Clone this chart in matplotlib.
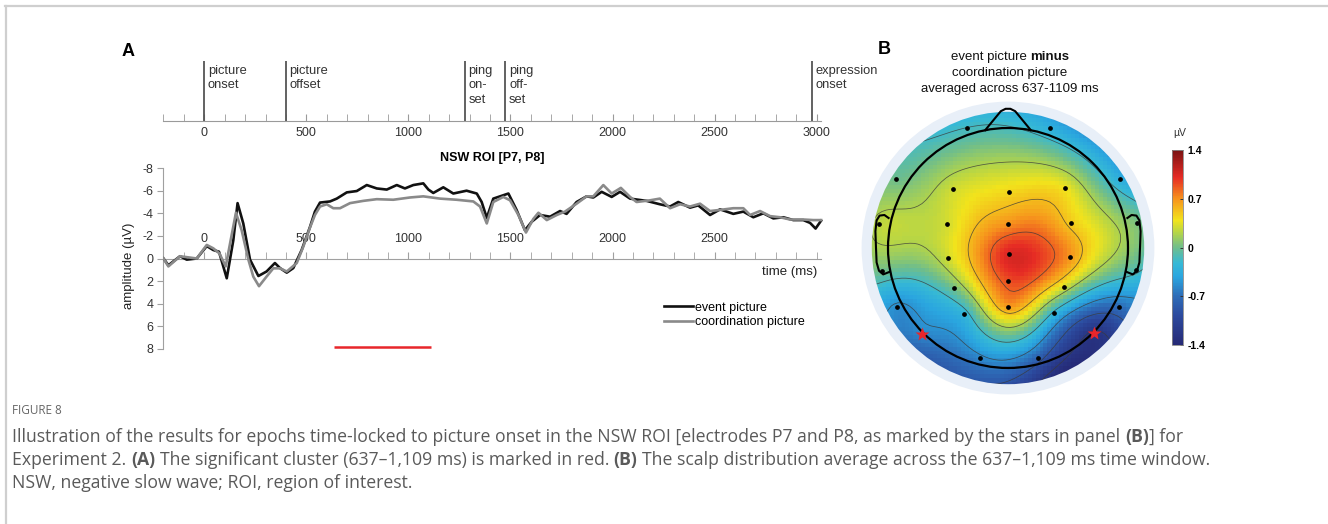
import numpy as np
import matplotlib
matplotlib.use('Agg')
import matplotlib.pyplot as plt
from matplotlib.colors import LinearSegmentedColormap, Normalize
from matplotlib.patches import Circle
from matplotlib.lines import Line2D
from matplotlib.cm import ScalarMappable

plt.rcParams['font.family'] = ['Liberation Sans', 'DejaVu Sans']
plt.rcParams['axes.unicode_minus'] = False

# ---- panel A data (ms, uV) ----
event_t = [-200, -176, -119, -86, -37, 12, 44, 72, 110, 142, 163, 191, 224, 265, 305, 346, 371, 404, 436, 477,
           518, 542, 567, 616, 649, 698, 747, 796, 845, 894, 943, 983, 1024, 1073, 1098, 1122, 1171, 1220, 1285, 1335,
           1359, 1384, 1416, 1449, 1490, 1530, 1571, 1604, 1645, 1694, 1743, 1775, 1824, 1873, 1906, 1947, 1996, 2037,
           2086, 2126, 2167, 2232, 2282, 2322, 2380, 2420, 2478, 2527, 2592, 2641, 2690, 2739, 2788, 2837, 2886, 2935,
           2968, 2995, 3022]
event_v = [0, 0.6, -0.2, 0.1, 0, -1.1, -0.75, -0.6, 1.75, -1.6, -4.9, -3.1, 0.1, 1.55, 1.15, 0.4, 0.85, 1.25, 0.85, -0.75,
           -2.8, -4.15, -4.95, -5.05, -5.3, -5.85, -5.97, -6.5, -6.2, -6.1, -6.5, -6.2, -6.5, -6.65, -6.1, -5.8, -6.3, -5.75, -6.0, -5.75,
           -5.0, -3.6, -5.3, -5.5, -5.75, -4.3, -2.5, -3.25, -3.85, -3.7, -4.2, -3.95, -5.0, -5.5, -5.4, -5.9, -5.45, -5.9,
           -5.3, -5.2, -5.1, -4.8, -4.6, -5.0, -4.5, -4.7, -3.85, -4.35, -3.95, -4.15, -3.65, -4.0, -3.55, -3.65, -3.4, -3.4,
           -3.15, -2.65, -3.35]

coord_t = [-200, -176, -119, -37, 12, 44, 74, 105, 129, 155, 183, 216, 240, 268, 305, 338, 371, 404, 453, 485,
           518, 542, 567, 600, 632, 665, 714, 779, 845, 926, 1008, 1073, 1155, 1236, 1318, 1351, 1384, 1416, 1465, 1498,
           1539, 1576, 1612, 1637, 1678, 1727, 1767, 1824, 1873, 1906, 1955, 1996, 2041, 2086, 2118, 2184, 2232, 2282,
           2331, 2380, 2429, 2478, 2527, 2592, 2641, 2674, 2723, 2772, 2821, 2870, 2935, 2984, 3022]
coord_v = [0, 0.7, -0.2, 0, -1.2, -0.9, -0.45, 0.7, -1.6, -4.05, -2.5, 0.1, 1.6, 2.45, 1.6, 0.87, 0.87, 1.15, 0.4, -1.05,
           -2.75, -3.85, -4.6, -4.8, -4.45, -4.45, -4.9, -5.1, -5.25, -5.2, -5.4, -5.5, -5.3, -5.2, -5.05, -4.6, -3.1, -5.0, -5.45, -5.15,
           -3.85, -2.3, -3.5, -4.05, -3.4, -3.85, -4.15, -4.85, -5.5, -5.5, -6.5, -5.75, -6.25, -5.45, -5.0, -5.15, -5.3, -4.45,
           -4.8, -4.6, -4.85, -4.2, -4.3, -4.45, -4.45, -3.85, -4.2, -3.75, -3.65, -3.45, -3.45, -3.4, -3.4]

events = [0, 400, 1275, 1475, 2978]
event_names = ['picture\nonset', 'picture\noffset', 'ping\non-\nset', 'ping\noff-\nset', 'expression\nonset']
cluster = [637, 1109]
cluster_y = 7.8

# ---- panel B data (head radius = 1) ----
elec_x = [-0.344, 0.350, -0.933, 0.933, -0.456, 0.008, 0.475, -1.075, -0.511, 0.003, 0.523, 1.073, -0.503, 0.006, 0.519,
          -1.050, 1.067, -0.448, 0.0, 0.467, -0.923, 0.928, -0.367, 0.003, 0.386, -0.719, 0.719, -0.233, 0.248]
elec_y = [1.003, 1.003, 0.573, 0.573, 0.492, 0.464, 0.503, 0.196, 0.200, 0.200, 0.206, 0.211, -0.086, -0.050, -0.078,
          -0.189, -0.183, -0.331, -0.275, -0.323, -0.494, -0.489, -0.550, -0.489, -0.539, -0.717, -0.711, -0.919, -0.919]
elec_v = [-0.15, -0.3, 0.0, -0.3, 0.3, 0.45, 0.4, 0.25, 0.3, 0.7, 0.5, 0.05, 0.3, 1.05, 0.7,
          0.0, -0.1, 0.05, 0.9, 0.35, -0.55, -0.7, -0.25, 0.7, -0.2, -0.55, -1.25, -0.55, -0.75]
star_idx = [25, 26]
edge_deg = [90, 60, 30, 10, -10, -30, -50, -70, -90, -110, -130, -150, -170, 170, 150, 120]
edge_v = [-0.35, -0.55, -0.45, -0.05, -0.25, -0.75, -1.3, -1.45, -1.0, -0.9, -0.85, -0.5, 0.0, 0.15, 0.0, -0.25]
cbar_ticks = [-1.4, -0.7, 0, 0.7, 1.4]

W, H = 1328, 524
fig = plt.figure(figsize=(W / 100, H / 100), dpi=100)


def px_axes(x0, y0, x1, y1):
    return fig.add_axes([x0 / W, 1 - y1 / H, (x1 - x0) / W, (y1 - y0) / H])


def text_width(s, size, family, weight):
    if not s:
        return 0
    r = fig.canvas.get_renderer()
    t = fig.text(0, 0, s, fontsize=size, family=family, fontweight=weight)
    w = t.get_window_extent(r).width
    t.remove()
    return w


def layout_runs(parts, size, family):
    sp = text_width('a a', size, family, 'normal') - text_width('aa', size, family, 'normal')
    out = []
    for s, wt in parts:
        lead = len(s) - len(s.lstrip())
        trail = len(s) - len(s.rstrip())
        out.append((lead * sp, text_width(s.strip(), size, family, wt), trail * sp))
    return out


def draw_runs(x, y, parts, size, family, color, ha='left'):
    widths = layout_runs(parts, size, family)
    if ha == 'center':
        x -= sum(sum(w) for w in widths) / 2
    for (s, wt), (l, c, tr) in zip(parts, widths):
        x += l
        fig.text(x / W, 1 - y / H, s.strip(), fontsize=size, family=family, fontweight=wt,
                 color=color, va='center', ha='left')
        x += c + tr


# frame
fig.add_artist(Line2D([5 / W, 1], [1 - 6 / H, 1 - 6 / H], transform=fig.transFigure, color='#cfcfcf', lw=1.6))
fig.add_artist(Line2D([6 / W, 6 / W], [0, 1 - 6 / H], transform=fig.transFigure, color='#cfcfcf', lw=1.6))

X0 = 204.3 - 0.2041 * 200
X1 = 204.3 + 0.2041 * 3030

# ---- timeline ----
ax_t = px_axes(X0, 61, X1, 121)
ax_t.set_xlim(-200, 3030)
ax_t.set_ylim(0, 1)
for s in ['top', 'left', 'right']:
    ax_t.spines[s].set_visible(False)
ax_t.spines['bottom'].set_color('#9a9a9a')
ax_t.spines['bottom'].set_bounds(-200, 3020)
ax_t.set_yticks([])
ax_t.set_xticks(range(0, 3001, 500))
ax_t.set_xticks(range(-200, 3001, 100), minor=True)
ax_t.tick_params(axis='x', which='both', direction='in', length=5, color='#9a9a9a',
                 labelsize=9, pad=4, labelcolor='#333333')
ax_t.patch.set_visible(False)
for t, lab in zip(events, event_names):
    ax_t.axvline(t, color='#555555', lw=1.3)
    ax_t.text(t + 18, 0.94, lab, va='top', ha='left', fontsize=9.3, color='#333333', linespacing=1.3)

# ---- ERP plot ----
ax = px_axes(X0, 160, X1, 352)
ax.set_xlim(-200, 3030)
ax.set_ylim(8.274, -8.717)
ax.patch.set_visible(False)
ax.spines['right'].set_visible(False)
ax.spines['bottom'].set_visible(False)
ax.spines['top'].set_position(('data', 0))
ax.spines['top'].set_bounds(-200, 3020)
ax.spines['left'].set_bounds(-8, 8)
for s in ['top', 'left']:
    ax.spines[s].set_color('#a0a0a0')
ax.xaxis.set_ticks_position('top')
ax.set_xticks(range(0, 2501, 500))
ax.set_xticks(range(-200, 3001, 100), minor=True)
ax.tick_params(axis='x', which='both', direction='out', length=5, color='#a0a0a0',
               labelsize=9, pad=5, labelcolor='#333333')
ax.set_yticks(range(-8, 9, 2))
ax.tick_params(axis='y', direction='out', length=4, color='#a0a0a0', labelsize=9, labelcolor='#333333', pad=3)

l1, = ax.plot(event_t, event_v, color='#111111', lw=1.9, label='event picture', zorder=3)
l2, = ax.plot(coord_t, coord_v, color='#8a8a8a', lw=1.9, label='coordination picture', zorder=4)
ax.plot(cluster, [cluster_y, cluster_y], color='#e8262b', lw=1.8, solid_capstyle='butt')
ax.text(3005, 1.2, 'time (ms)', ha='right', va='center', fontsize=9.5, color='#222222')
ax.legend(handles=[l1, l2], loc='center left', bbox_to_anchor=(664 / W, 1 - 315 / H),
          bbox_transform=fig.transFigure, frameon=False, fontsize=9, handlelength=2.3,
          handletextpad=0.2, labelspacing=0.2, borderpad=0, borderaxespad=0)

fig.text(492 / W, 1 - 158 / H, 'NSW ROI [P7, P8]', ha='center', va='center', fontweight='bold', fontsize=9)
fig.text(129 / W, 1 - 266 / H, 'amplitude (\u00b5V)', rotation=90, ha='center', va='center', fontsize=9.5,
         color='#222222')
fig.text(122 / W, 1 - 52 / H, 'A', ha='left', va='center', fontweight='bold', fontsize=13)
fig.text(878 / W, 1 - 50 / H, 'B', ha='left', va='center', fontweight='bold', fontsize=13)

# ---- topomap ----
cmap = LinearSegmentedColormap.from_list('topo', [
    (0.0, '#262a76'), (0.15, '#2c4a9e'), (0.25, '#2e6db8'), (0.35, '#2aa6e0'), (0.42, '#36b9d6'),
    (0.5, '#6fbe8c'), (0.58, '#b8d645'), (0.64, '#f2e41c'), (0.75, '#f7941d'), (0.86, '#e62b25'),
    (1.0, '#7a1212')])
norm = Normalize(-1.4, 1.4)

axm = px_axes(858, 98, 1158, 398)
axm.set_xlim(-1.25, 1.25)
axm.set_ylim(-1.25, 1.25)
axm.set_aspect('equal')
axm.axis('off')

ex = np.array(elec_x)
ey = np.array(elec_y)
ang = np.radians(edge_deg)
px_ = np.r_[ex, 1.2 * np.cos(ang)]
py_ = np.r_[ey, 1.2 * np.sin(ang)]
pv_ = np.r_[elec_v, edge_v]


def tps_kernel(d):
    with np.errstate(divide='ignore', invalid='ignore'):
        k = d ** 2 * np.log(d)
    return np.nan_to_num(k)


n = len(px_)
D = np.hypot(px_[:, None] - px_[None, :], py_[:, None] - py_[None, :])
A = np.zeros((n + 3, n + 3))
A[:n, :n] = tps_kernel(D) + 0.002 * np.eye(n)
A[:n, n] = 1
A[:n, n + 1] = px_
A[:n, n + 2] = py_
A[n, :n] = 1
A[n + 1, :n] = px_
A[n + 2, :n] = py_
wts = np.linalg.solve(A, np.r_[pv_, 0, 0, 0])

N = 70
g = np.linspace(-1.15, 1.15, N)
gx, gy = np.meshgrid(g, g)
Dg = np.hypot(gx[..., None] - px_, gy[..., None] - py_)
Z = tps_kernel(Dg) @ wts[:n] + wts[n] + wts[n + 1] * gx + wts[n + 2] * gy
Z = np.clip(Z, -1.4, 1.4)

halo = Circle((0, 0), 1.22, fc='#e8eff8', ec='none', zorder=0)
axm.add_patch(halo)
clip = Circle((0, 0), 1.135, transform=axm.transData)
im = axm.imshow(Z, extent=(-1.15, 1.15, -1.15, 1.15), origin='lower', cmap=cmap, norm=norm,
                interpolation='nearest', zorder=1)
im.set_clip_path(clip)
cs = axm.contour(gx, gy, Z, levels=[-1.2, -0.85, -0.5, -0.15, 0.2, 0.55, 0.85], colors='#3a3a3a',
                 linewidths=0.55, linestyles='solid', alpha=0.8, zorder=2)
cs.set_clip_path(clip)

axm.add_patch(Circle((0, 0), 1.0, fill=False, ec='black', lw=1.6, zorder=3))
nose_x = [-0.19, -0.06, -0.02, 0.02, 0.06, 0.19]
nose_y = [0.982, 1.14, 1.16, 1.16, 1.14, 0.982]
axm.plot(nose_x, nose_y, color='black', lw=1.5, zorder=3)
ear_x = [0.995, 1.03, 1.07, 1.095, 1.105, 1.10, 1.095, 1.075, 1.04, 0.99]
ear_y = [0.25, 0.275, 0.27, 0.23, 0.14, 0.0, -0.12, -0.19, -0.22, -0.20]
axm.plot(ear_x, ear_y, color='black', lw=1.5, zorder=3)
axm.plot([-v for v in ear_x], ear_y, color='black', lw=1.5, zorder=3)

dot_idx = [i for i in range(len(elec_x)) if i not in star_idx]
axm.plot(ex[dot_idx], ey[dot_idx], 'o', color='black', ms=2.4, zorder=4)
axm.plot(ex[star_idx], ey[star_idx], '*', color='#e8262b', ms=10, mec='none', zorder=4)

# colorbar
cax = px_axes(1172, 150, 1183, 345)
cb = fig.colorbar(ScalarMappable(norm=norm, cmap=cmap), cax=cax)
cb.set_ticks(cbar_ticks)
cb.set_ticklabels(['-1.4', '-0.7', '0', '0.7', '1.4'])
cb.outline.set_edgecolor('#888888')
cb.outline.set_linewidth(0.6)
cax.tick_params(direction='in', length=2, width=0.7, color='#333333', labelsize=7.5, pad=3)
for lab in cax.get_yticklabels():
    lab.set_fontweight('bold')
fig.text(1180 / W, 1 - 133 / H, '\u00b5V', ha='center', va='center', fontsize=7.5, color='#333333')

# topomap title
draw_runs(1010, 57, [('event picture ', 'normal'), ('minus', 'bold')], 9.5, 'Liberation Sans', '#111111', ha='center')
fig.text(1010 / W, 1 - 73 / H, 'coordination picture', ha='center', va='center', fontsize=9.5, color='#111111')
fig.text(1010 / W, 1 - 89 / H, 'averaged across 637-1109 ms', ha='center', va='center', fontsize=9.5,
         color='#111111')

# ---- caption ----
cap_font = 'Open Sans'
cap_col = '#5a5a5a'
line1 = [('Illustration of the results for epochs time-locked to picture onset in the NSW ROI [electrodes P7 and P8, '
          'as marked by the stars in panel ', 'normal'), ('(B)', 'bold'), ('] for', 'normal')]
line2 = [('Experiment 2. ', 'normal'), ('(A)', 'bold'),
         (' The significant cluster (637\u20131,109 ms) is marked in red. ', 'normal'), ('(B)', 'bold'),
         (' The scalp distribution average across the 637\u20131,109 ms time window.', 'normal')]
line3 = [('NSW, negative slow wave; ROI, region of interest.', 'normal')]
w2 = sum(sum(w) for w in layout_runs(line2, 10, cap_font))
cap_size = 10 * (1208 - 12) / w2

fig.text(12 / W, 1 - 410 / H, 'FIGURE 8', ha='left', va='center', fontsize=8.5, family=cap_font, color='#666666')
draw_runs(12, 437, line1, cap_size, cap_font, cap_col)
draw_runs(12, 460, line2, cap_size, cap_font, cap_col)
draw_runs(12, 483, line3, cap_size, cap_font, cap_col)

fig.savefig('out.png', dpi=100)
